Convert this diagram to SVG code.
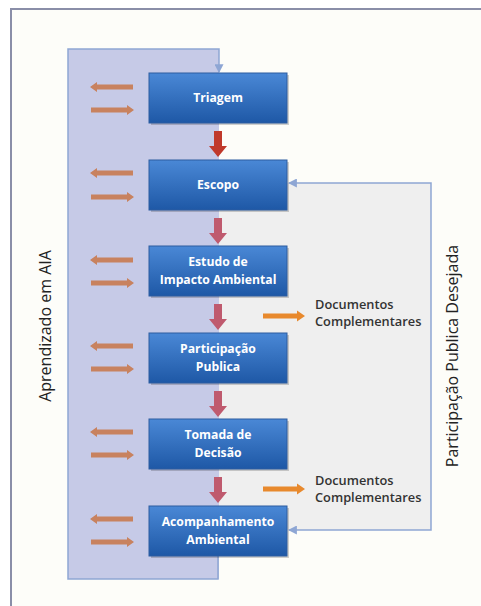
<svg xmlns="http://www.w3.org/2000/svg" width="481" height="606" viewBox="0 0 481 606">
  <defs>
    <linearGradient id="boxg" x1="0" y1="0" x2="0" y2="1">
      <stop offset="0" stop-color="#4a88d6"/>
      <stop offset="1" stop-color="#1e58a6"/>
    </linearGradient>
    <path id="dn" d="M-4,-26 h8 v15 h5 l-9,11 l-9,-11 h5z"/>
    <path id="lt" d="M0,0 l7,-5 v2.5 h36 v5 h-36 v2.5z"/>
    <path id="rt" d="M44,0 l-7,-5 v2.5 h-36 v5 h36 v2.5z"/>
    <path id="or" d="M42,0 l-8,-5.5 v3 h-34 v5 h34 v3z"/>
    <marker id="ah" viewBox="0 0 8 8" refX="7" refY="4" markerWidth="6" markerHeight="6" orient="auto-start-reverse">
      <path d="M0,0 L8,4 L0,8z" fill="#8ea6d4"/>
    </marker>
  </defs>
  <style>
    .node rect.b { fill: url(#boxg); stroke: #2c5da0; stroke-width: 1; }
    .node rect.s { fill: #000; opacity: 0.18; }
    .node text { font-family: "Open Sans", "Liberation Sans", sans-serif; font-weight: 700; font-size: 12.2px; fill: #ffffff; text-anchor: middle; }
    .lbl { font-family: "Open Sans", "Liberation Sans", sans-serif; fill: #222; }
    .doc { font-size: 12.8px; font-weight: 600; fill: #333; }
    .red { fill: #c0392b; }
    .mauve { fill: #bf5a6e; }
    .brown { fill: #c8825f; }
    .orange { fill: #e8892d; }
    .conn { fill: none; stroke: #8ea6d4; stroke-width: 1.5; }
  </style>

  <rect width="481" height="606" fill="#ffffff"/>
  <rect x="11" y="9" width="475" height="600" fill="#fdfdf9"/>
  <path d="M11,606 V9 H481" fill="none" stroke="#8a8ea8" stroke-width="2"/>

  <!-- background regions -->
  <rect id="grey-region" x="219" y="183" width="212" height="347" fill="#efefef"/>
  <rect id="lavender-region" x="68" y="49" width="151" height="530" fill="#c6cae7"/>

  <g id="connectors">
    <path class="conn" d="M218,555 V579 H68 V49 H219 V72" marker-end="url(#ah)" stroke="#8c9bc9"/>
    <path class="conn" d="M289,530 H431 V183 H289" marker-start="url(#ah)" marker-end="url(#ah)"/>
    <use href="#dn" x="218" y="157" class="red"/>
    <use href="#dn" x="218" y="244" class="mauve"/>
    <use href="#dn" x="218" y="330" class="mauve"/>
    <use href="#dn" x="218" y="417" class="mauve"/>
    <use href="#dn" x="218" y="503" class="mauve"/>
    <use href="#lt" x="90" y="87" class="brown"/>
    <use href="#rt" x="90" y="110" class="brown"/>
    <use href="#lt" x="90" y="173" class="brown"/>
    <use href="#rt" x="90" y="197" class="brown"/>
    <use href="#lt" x="90" y="260" class="brown"/>
    <use href="#rt" x="90" y="283" class="brown"/>
    <use href="#lt" x="90" y="346" class="brown"/>
    <use href="#rt" x="90" y="369" class="brown"/>
    <use href="#lt" x="90" y="432" class="brown"/>
    <use href="#rt" x="90" y="455" class="brown"/>
    <use href="#lt" x="90" y="519" class="brown"/>
    <use href="#rt" x="90" y="542" class="brown"/>
    <use href="#or" x="263" y="316" class="orange"/>
    <use href="#or" x="263" y="489" class="orange"/>
  </g>

  <g id="triagem" class="node">
    <rect class="s" x="151" y="75" width="138" height="50"/>
    <rect class="b" x="149" y="73" width="138" height="50"/>
    <text x="218" y="102">Triagem</text>
  </g>
  <g id="escopo" class="node">
    <rect class="s" x="151" y="162" width="138" height="50"/>
    <rect class="b" x="149" y="160" width="138" height="50"/>
    <text x="218" y="189">Escopo</text>
  </g>
  <g id="estudo" class="node">
    <rect class="s" x="151" y="248" width="138" height="50"/>
    <rect class="b" x="149" y="246" width="138" height="50"/>
    <text x="218" y="266">Estudo de</text>
    <text x="218" y="284">Impacto Ambiental</text>
  </g>
  <g id="participacao" class="node">
    <rect class="s" x="151" y="335" width="138" height="50"/>
    <rect class="b" x="149" y="333" width="138" height="50"/>
    <text x="218" y="353">Participação</text>
    <text x="218" y="371">Publica</text>
  </g>
  <g id="tomada" class="node">
    <rect class="s" x="151" y="421" width="138" height="50"/>
    <rect class="b" x="149" y="419" width="138" height="50"/>
    <text x="218" y="439">Tomada de</text>
    <text x="218" y="457">Decisão</text>
  </g>
  <g id="acompanhamento" class="node">
    <rect class="s" x="151" y="508" width="138" height="50"/>
    <rect class="b" x="149" y="506" width="138" height="50"/>
    <text x="218" y="526">Acompanhamento</text>
    <text x="218" y="544">Ambiental</text>
  </g>

  <g id="doc1">
    <text class="lbl doc" x="315" y="309">Documentos</text>
    <text class="lbl doc" x="315" y="326">Complementares</text>
  </g>
  <g id="doc2">
    <text class="lbl doc" x="315" y="485">Documentos</text>
    <text class="lbl doc" x="315" y="502">Complementares</text>
  </g>

  <text class="lbl" font-size="16" text-anchor="middle" transform="translate(51,326) rotate(-90)">Aprendizado em AIA</text>
  <text class="lbl" font-size="16" text-anchor="middle" transform="translate(458,356) rotate(-90)">Participação Publica Desejada</text>
</svg>
